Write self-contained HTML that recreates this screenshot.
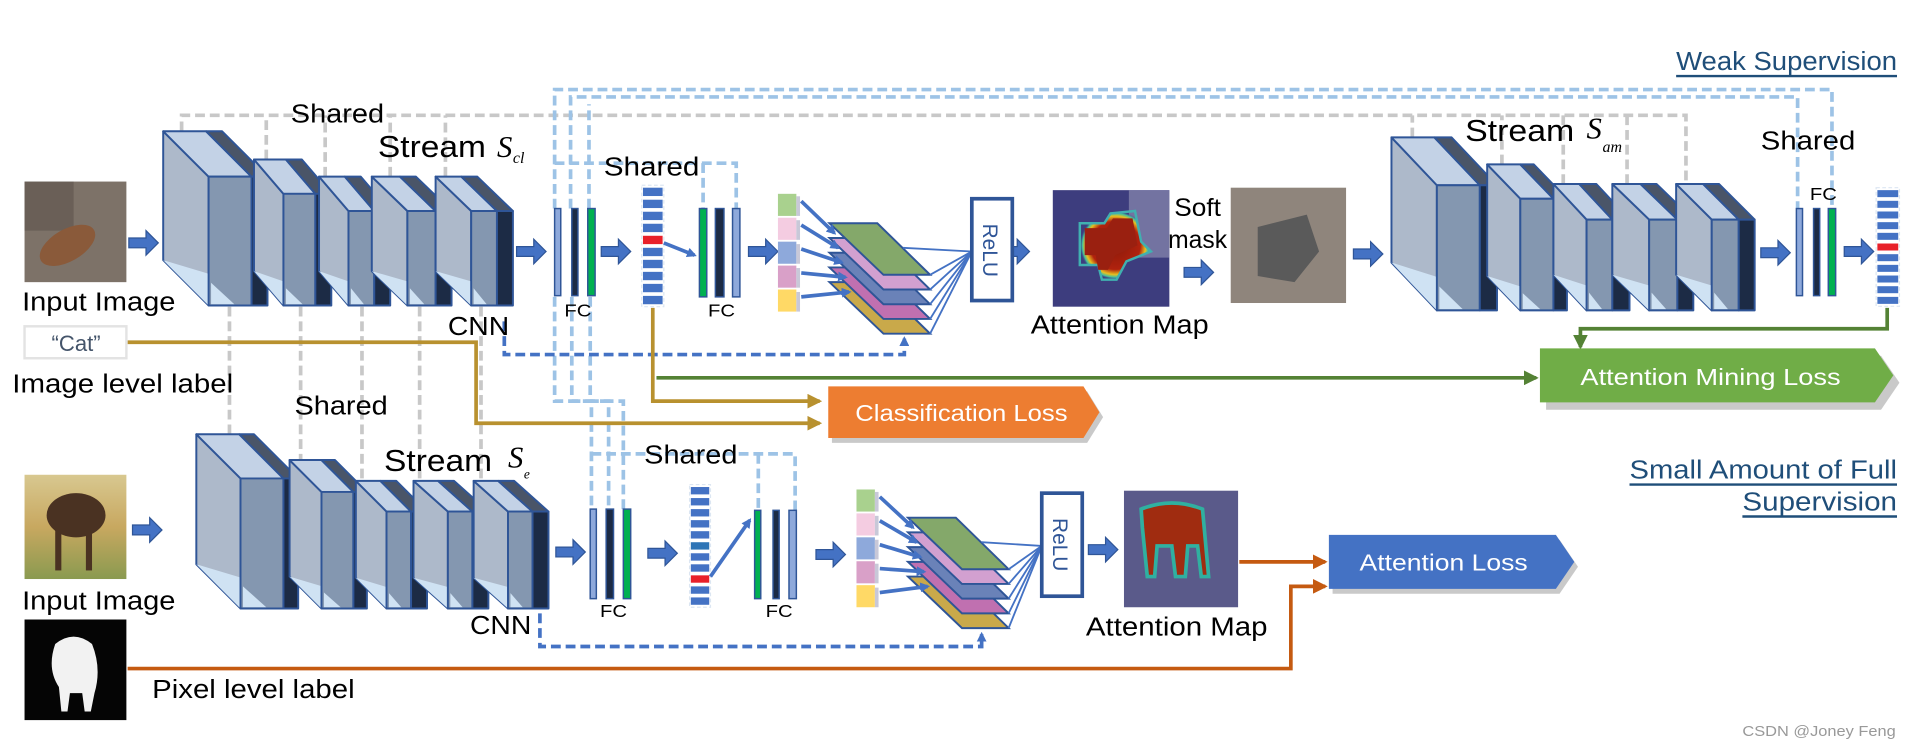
<!DOCTYPE html>
<html><head><meta charset="utf-8"><style>
html,body{margin:0;padding:0;background:#fff;}
svg{display:block;}
text{font-family:"Liberation Sans Narrow","Liberation Sans",sans-serif;}
</style></head><body>
<svg id="s" width="1924" height="752" viewBox="0 0 1568 613" preserveAspectRatio="none" xmlns="http://www.w3.org/2000/svg">
<defs>
<marker id="ab" markerWidth="8" markerHeight="8" refX="6" refY="4" orient="auto" markerUnits="userSpaceOnUse"><path d="M0,0 L8,4 L0,8 z" fill="#4472c4"/></marker>
<marker id="ag" markerWidth="12" markerHeight="12" refX="10" refY="6" orient="auto" markerUnits="userSpaceOnUse"><path d="M0,0 L12,6 L0,12 z" fill="#b8912f"/></marker>
<marker id="agr" markerWidth="12" markerHeight="12" refX="10" refY="6" orient="auto" markerUnits="userSpaceOnUse"><path d="M0,0 L12,6 L0,12 z" fill="#548235"/></marker>
<marker id="ao" markerWidth="12" markerHeight="12" refX="10" refY="6" orient="auto" markerUnits="userSpaceOnUse"><path d="M0,0 L12,6 L0,12 z" fill="#c55a11"/></marker>
<radialGradient id="heat" cx="50%" cy="50%" r="50%"><stop offset="0" stop-color="#8b1a0a"/><stop offset="0.7" stop-color="#b0220e"/><stop offset="0.85" stop-color="#e8c020"/><stop offset="0.93" stop-color="#40c0a0"/><stop offset="1" stop-color="#3b3f8a" stop-opacity="0"/></radialGradient>
<linearGradient id="sheepbg" x1="0" y1="0" x2="0" y2="1"><stop offset="0" stop-color="#d8c890"/><stop offset="0.5" stop-color="#c8a860"/><stop offset="1" stop-color="#8a9a50"/></linearGradient>
</defs>

<g fill="none" stroke="#c8c8c8" stroke-width="3" stroke-dasharray="8,4">
<path d="M148,107 V94 H1374 V150"/>
<path d="M217,130 V94"/><path d="M265,144 V94"/><path d="M318,144 V94"/><path d="M363,144 V94"/>
<path d="M1151,112 V94"/><path d="M1224,134 V94"/><path d="M1274,150 V94"/><path d="M1326,150 V94"/>
<path d="M187,250 V354"/><path d="M245,250 V375"/><path d="M295,250 V392"/><path d="M342,250 V392"/><path d="M392,250 V392"/>
</g>
<g fill="none" stroke="#9dc3e6" stroke-width="3" stroke-dasharray="8,4">
<path d="M452,170 V73 H1493 V170"/>
<path d="M465,170 V79 H1465 V170"/>
<path d="M480,170 V85"/>
<path d="M452,242 V327 H482 V415"/><path d="M466,242 V327 H496 V415"/><path d="M481,242 V327 H508 V415"/>
<path d="M452,133 H600 V170"/><path d="M573,133 V170"/>
<path d="M482,370 H648 V416"/><path d="M618,370 V416"/>
</g>

<g fill="#4472c4" stroke="#2f5597" stroke-width="1">
<path d="M105,194 h14 v-6 l10,10 l-10,10 v-6 h-14z"/>
<path d="M421,201 h14 v-6 l10,10 l-10,10 v-6 h-14z"/>
<path d="M490,201 h14 v-6 l10,10 l-10,10 v-6 h-14z"/>
<path d="M610,201 h14 v-6 l10,10 l-10,10 v-6 h-14z"/>
<path d="M815,201 h14 v-6 l10,10 l-10,10 v-6 h-14z"/>
<path d="M965,218 h14 v-6 l10,10 l-10,10 v-6 h-14z"/>
<path d="M1103,203 h14 v-6 l10,10 l-10,10 v-6 h-14z"/>
<path d="M1435,202 h14 v-6 l10,10 l-10,10 v-6 h-14z"/>
<path d="M1503,201 h14 v-6 l10,10 l-10,10 v-6 h-14z"/>
<path d="M108,428 h14 v-6 l10,10 l-10,10 v-6 h-14z"/>
<path d="M453,446 h14 v-6 l10,10 l-10,10 v-6 h-14z"/>
<path d="M528,447 h14 v-6 l10,10 l-10,10 v-6 h-14z"/>
<path d="M665,448 h14 v-6 l10,10 l-10,10 v-6 h-14z"/>
<path d="M887,444 h14 v-6 l10,10 l-10,10 v-6 h-14z"/>
</g>

<g id="blocks"></g>

<rect x="20" y="148" width="83" height="82" fill="#7d7268"/>
<rect x="20" y="148" width="40" height="40" fill="#5e544c" opacity="0.6"/>
<ellipse cx="55" cy="200" rx="25" ry="13" fill="#8a5a3a" transform="rotate(-30 55 200)"/>
<rect x="20" y="387" width="83" height="85" fill="url(#sheepbg)"/>
<ellipse cx="62" cy="420" rx="24" ry="18" fill="#4a3222"/><rect x="45" y="430" width="5" height="35" fill="#4a3222"/><rect x="70" y="430" width="5" height="35" fill="#4a3222"/>
<rect x="20" y="505" width="83" height="82" fill="#050505"/>
<path d="M45,525 q15,-12 30,0 q8,20 2,40 l-3,15 h-5 l-2,-15 h-10 l-2,15 h-5 l-2,-20 q-10,-15 -3,-35z" fill="#f2f2f2"/>
<rect x="858" y="155" width="95" height="95" fill="#3d3d7e"/>
<rect x="920" y="155" width="33" height="55" fill="#8a8ab0" opacity="0.7"/>
<path d="M880,182 h20 l5,-8 l20,-2 l5,25 l8,8 l-20,8 l-8,15 h-12 l-3,-12 h-15z" fill="url(#heat)" stroke="#40b0b0" stroke-width="2"/>
<path d="M884,186 h18 l5,-8 l16,0 l4,22 l-18,8 l-6,12 h-8 l-2,-12 h-9z" fill="#9a2010"/>
<rect x="1003" y="153" width="94" height="94" fill="#8f857c"/>
<path d="M1025,185 l40,-10 l10,30 l-20,25 l-30,-5z" fill="#5a5a5a"/>
<rect x="916" y="400" width="93" height="95" fill="#5a5a8a"/>
<path d="M930,415 q25,-10 50,0 l5,55 l-6,0 l-3,-25 l-8,0 l-2,25 l-8,0 l-3,-25 l-12,0 l-2,25 l-6,0 l-4,-40z" fill="#a02c10" stroke="#30b0a0" stroke-width="3"/>

<g stroke="#2f5597" stroke-width="1.2">
<rect x="452" y="170" width="5" height="71" fill="#8ea9db"/><rect x="466" y="170" width="5" height="71" fill="#1c2b45"/><rect x="479" y="170" width="6" height="71" fill="#00b050"/>
<rect x="570" y="170" width="6" height="72" fill="#00b050"/><rect x="583" y="170" width="7" height="72" fill="#1c2b45"/><rect x="597" y="170" width="6" height="72" fill="#8ea9db"/>
<rect x="1464" y="170" width="5" height="71" fill="#8ea9db"/><rect x="1478" y="170" width="5" height="71" fill="#1c2b45"/><rect x="1490" y="170" width="6" height="71" fill="#00b050"/>
<rect x="481" y="415" width="5" height="73" fill="#8ea9db"/><rect x="494" y="415" width="6" height="73" fill="#1c2b45"/><rect x="508" y="415" width="6" height="73" fill="#00b050"/>
<rect x="615" y="416" width="5" height="72" fill="#00b050"/><rect x="630" y="416" width="5" height="72" fill="#1c2b45"/><rect x="643" y="416" width="6" height="72" fill="#8ea9db"/>
</g>
<g id="vecs"></g>

<rect x="792" y="162" width="33" height="83" fill="#fff" stroke="#2f5597" stroke-width="3"/>
<text transform="translate(801,204) rotate(90)" font-size="17" text-anchor="middle" fill="#2f5597" style="font-family:'Liberation Sans',sans-serif">ReLU</text>
<rect x="849" y="402" width="33" height="84" fill="#fff" stroke="#2f5597" stroke-width="3"/>
<text transform="translate(858,444) rotate(90)" font-size="17" text-anchor="middle" fill="#2f5597" style="font-family:'Liberation Sans',sans-serif">ReLU</text>

<path d="M411,262 V289 H737 V276" fill="none" stroke="#4472c4" stroke-width="3" stroke-dasharray="8,4" marker-end="url(#ab)"/>
<path d="M440,500 V527 H800 V517" fill="none" stroke="#4472c4" stroke-width="3" stroke-dasharray="8,4" marker-end="url(#ab)"/>
<path d="M104,279 H388 V345 H668" fill="none" stroke="#b8912f" stroke-width="3" marker-end="url(#ag)"/>
<path d="M532,251 V327 H668" fill="none" stroke="#b8912f" stroke-width="3" marker-end="url(#ag)"/>
<path d="M535,308 H1252" fill="none" stroke="#548235" stroke-width="3" marker-end="url(#agr)"/>
<path d="M1538,251 V268 H1288 V283" fill="none" stroke="#548235" stroke-width="3" marker-end="url(#agr)"/>
<path d="M1010,458 H1080" fill="none" stroke="#c55a11" stroke-width="3" marker-end="url(#ao)"/>
<path d="M104,545 H1052 V478 H1080" fill="none" stroke="#c55a11" stroke-width="3" marker-end="url(#ao)"/>

<path d="M1257,286 H1530 L1545,308 L1530,330 H1257z" fill="#646464" opacity="0.35" transform="translate(3,4)"/>
<path d="M1255,284 H1528 L1543,306 L1528,328 H1255z" fill="#70ad47"/>
<text x="1288" y="314" font-size="19" fill="#fff" textLength="212" lengthAdjust="spacingAndGlyphs">Attention Mining Loss</text>
<path d="M675,315 H883 L896,336 L883,357 H675z" fill="#646464" opacity="0.35" transform="translate(3,4)"/>
<path d="M675,315 H883 L896,336 L883,357 H675z" fill="#ed7d31"/>
<text x="697" y="343" font-size="19" fill="#fff" textLength="173" lengthAdjust="spacingAndGlyphs">Classification Loss</text>
<path d="M1083,436 H1268 L1283,458 L1268,480 H1083z" fill="#646464" opacity="0.35" transform="translate(3,4)"/>
<path d="M1083,436 H1268 L1283,458 L1268,480 H1083z" fill="#4472c4"/>
<text x="1108" y="465" font-size="19" fill="#fff" textLength="137" lengthAdjust="spacingAndGlyphs">Attention Loss</text>

<rect x="20" y="266" width="83" height="26" fill="#fff" stroke="#e3e3e3" stroke-width="2"/>
<text x="42" y="286" font-size="18" fill="#44546a" textLength="40" lengthAdjust="spacingAndGlyphs">“Cat”</text>

<g fill="#000">
<text x="18" y="253" font-size="21" textLength="125" lengthAdjust="spacingAndGlyphs">Input Image</text>
<text x="10" y="320" font-size="21" textLength="180" lengthAdjust="spacingAndGlyphs">Image level label</text>
<text x="237" y="100" font-size="21" textLength="76" lengthAdjust="spacingAndGlyphs">Shared</text>
<text x="308" y="128" font-size="25" textLength="88" lengthAdjust="spacingAndGlyphs">Stream</text>
<text x="405" y="128" font-size="25" font-style="italic" style="font-family:'Liberation Serif',serif">S</text>
<text x="418" y="133" font-size="13" font-style="italic" style="font-family:'Liberation Serif',serif">cl</text>
<text x="365" y="273" font-size="21" textLength="50" lengthAdjust="spacingAndGlyphs">CNN</text>
<text x="492" y="143" font-size="21" textLength="78" lengthAdjust="spacingAndGlyphs">Shared</text>
<text x="460" y="258" font-size="14" textLength="22" lengthAdjust="spacingAndGlyphs">FC</text>
<text x="577" y="258" font-size="14" textLength="22" lengthAdjust="spacingAndGlyphs">FC</text>
<text x="840" y="272" font-size="21" textLength="145" lengthAdjust="spacingAndGlyphs">Attention Map</text>
<text x="957" y="176" font-size="20" textLength="38" lengthAdjust="spacingAndGlyphs">Soft</text>
<text x="952" y="202" font-size="20" textLength="48" lengthAdjust="spacingAndGlyphs">mask</text>
<text x="1194" y="115" font-size="25" textLength="89" lengthAdjust="spacingAndGlyphs">Stream</text>
<text x="1293" y="113" font-size="25" font-style="italic" style="font-family:'Liberation Serif',serif">S</text>
<text x="1306" y="124" font-size="13" font-style="italic" style="font-family:'Liberation Serif',serif">am</text>
<text x="1435" y="122" font-size="21" textLength="77" lengthAdjust="spacingAndGlyphs">Shared</text>
<text x="1475" y="163" font-size="14" textLength="22" lengthAdjust="spacingAndGlyphs">FC</text>
<text x="240" y="338" font-size="21" textLength="76" lengthAdjust="spacingAndGlyphs">Shared</text>
<text x="313" y="384" font-size="25" textLength="88" lengthAdjust="spacingAndGlyphs">Stream</text>
<text x="414" y="381" font-size="25" font-style="italic" style="font-family:'Liberation Serif',serif">S</text>
<text x="427" y="390" font-size="11" font-style="italic" style="font-family:'Liberation Serif',serif">e</text>
<text x="525" y="378" font-size="21" textLength="76" lengthAdjust="spacingAndGlyphs">Shared</text>
<text x="18" y="497" font-size="21" textLength="125" lengthAdjust="spacingAndGlyphs">Input Image</text>
<text x="383" y="517" font-size="21" textLength="50" lengthAdjust="spacingAndGlyphs">CNN</text>
<text x="489" y="503" font-size="14" textLength="22" lengthAdjust="spacingAndGlyphs">FC</text>
<text x="624" y="503" font-size="14" textLength="22" lengthAdjust="spacingAndGlyphs">FC</text>
<text x="885" y="518" font-size="21" textLength="148" lengthAdjust="spacingAndGlyphs">Attention Map</text>
<text x="124" y="569" font-size="21" textLength="165" lengthAdjust="spacingAndGlyphs">Pixel level label</text>
</g>
<g fill="#1f4e79" font-size="21">
<text x="1366" y="57" textLength="180" lengthAdjust="spacingAndGlyphs">Weak Supervision</text>
<text x="1328" y="390" textLength="218" lengthAdjust="spacingAndGlyphs">Small Amount of Full</text>
<text x="1420" y="416" textLength="126" lengthAdjust="spacingAndGlyphs">Supervision</text>
</g>
<g stroke="#1f4e79" stroke-width="2">
<line x1="1366" y1="62" x2="1546" y2="62"/>
<line x1="1328" y1="395" x2="1546" y2="395"/>
<line x1="1420" y1="421" x2="1546" y2="421"/>
</g>
<text x="1420" y="600" font-size="12" fill="#999" textLength="125" lengthAdjust="spacingAndGlyphs">CSDN @Joney Feng</text>
</svg>
<script>
var NS="http://www.w3.org/2000/svg";
function el(p,t,a){var e=document.createElementNS(NS,t);for(var k in a)e.setAttribute(k,a[k]);p.appendChild(e);return e;}
var B=document.getElementById('blocks');
function blk(x0,ty,fx,fy,by,rx,sw){
 var dy=fy-ty,dw=rx-fx,st={stroke:'#2f5597','stroke-width':1.6,'stroke-linejoin':'round'};
 function P(pts,f){var a={points:pts,fill:f};for(var k in st)a[k]=st[k];el(B,'polygon',a);}
 P([x0,ty,fx,fy,fx,by,x0,by-dy].join(' '),'#adb9ca');
 el(B,'polygon',{points:[x0,by-dy,fx,by,fx,by-dy*0.7].join(' '),fill:'#cfe2f3'});
 P([x0,ty,x0+dw,ty,rx,fy,fx,fy].join(' '),'#c3d2e6');
 P([x0+dw,ty,x0+dw+sw,ty,rx+sw,fy,rx,fy].join(' '),'#4a5568');
 P([fx,fy,rx,fy,rx,by,fx,by].join(' '),'#8497b0');
 el(B,'polygon',{points:[fx+2,by-dy*0.5,fx+2,by-1,fx+dw*0.6,by-1].join(' '),fill:'#cfe2f3'});
 P([rx,fy,rx+sw,fy,rx+sw,by,rx,by].join(' '),'#1c2b45');
}
blk(133,107,170,144,249,205,13);blk(207,130,231,158,249,257,13);blk(260,144,284,172,249,305,13);blk(303,144,332,172,249,355,13);blk(355,144,384,172,249,405,13);
blk(1134,112,1171,151,253,1206,14);blk(1212,134,1239,162,253,1266,11);blk(1266,150,1293,179,253,1314,14);blk(1314,150,1344,179,253,1367,13);blk(1366,150,1395,179,253,1417,13);
blk(160,354,196,390,496,231,12);blk(236,375,262,401,496,288,11);blk(290,392,315,417,496,335,13);blk(337,392,365,417,496,385,13);blk(386,392,414,417,496,434,13);
var V=document.getElementById('vecs');
function vec(x,y,w,n,h,red,teal){for(var i=0;i<n;i++){el(V,'rect',{x:x,y:y+i*h,width:w,height:h-3,fill:i==red?'#e8202a':(i==teal?'#2e75b6':'#4472c4')});}
 el(V,'rect',{x:x-1,y:y-2,width:w+2,height:n*h+1,fill:'none',stroke:'#dce6f2','stroke-width':1,'stroke-dasharray':'3,2'});}
vec(524,153,16,10,9.8,4,-1);vec(1530,155,17,11,8.7,5,-1);vec(563,397,15,11,9,8,5);
function arr(x1,y1,x2,y2){el(V,'line',{x1:x1,y1:y1,x2:x2,y2:y2,stroke:'#4472c4','stroke-width':3,'marker-end':'url(#ab)'});}
arr(541,198,566,208);arr(579,470,611,424);
function stack(cx,cy,px,py,rx,ry){
 var cols=['#a9d18e','#f4cce1','#8ea9db','#d9a0c8','#ffd966'];
 for(var i=0;i<5;i++){el(V,'rect',{x:cx,y:cy+i*19.5,width:15,height:18,fill:cols[i]});el(V,'rect',{x:cx+15,y:cy+i*19.5+2,width:3,height:16,fill:'#c8c8d8'});}
 var pc=['#c9a94a','#c070b0','#6a82b8','#d2a0d0','#84a86a'];
 for(var j=4;j>=0;j--){var o=j*12;el(V,'polygon',{points:[px,py+o,px+39,py+o,px+82,py+42+o,px+44,py+42+o].join(' '),fill:pc[4-j],stroke:'#2f5597','stroke-width':1.6});}
 for(var k=0;k<5;k++){arr(cx+19,cy+k*19.5+6,px+4+k*3,py+8+k*12);
  el(V,'line',{x1:px+82,y1:py+42+k*12,x2:rx,y2:ry,stroke:'#4472c4','stroke-width':1.5});}
 el(V,'line',{x1:px+60,y1:py+20,x2:rx,y2:ry,stroke:'#4472c4','stroke-width':1.5});
}
stack(634,158,676,182,792,205);stack(698,399,740,422,849,445);
</script>
</body></html>
